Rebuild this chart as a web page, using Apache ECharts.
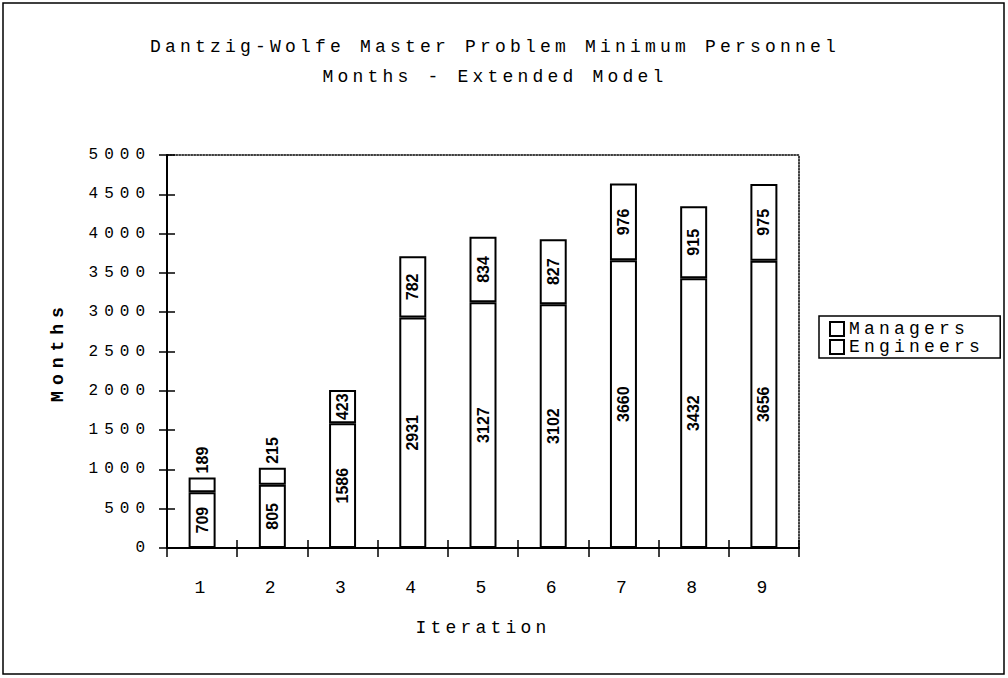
<!DOCTYPE html>
<html>
<head>
<meta charset="utf-8">
<script src="https://cdn.jsdelivr.net/npm/echarts@6/dist/echarts.min.js"></script>
<style>
  html, body { margin: 0; padding: 0; background: #fff; }
  #chart { width: 1008px; height: 678px; }
  #chart text[style*="Mono"] { letter-spacing: 4.2px; }
  #chart text[style*="16px"][style*="Mono"] { letter-spacing: 6px; }
  #chart text[style*="bold"][style*="Mono"] { letter-spacing: 6px; }
</style>
</head>
<body>
<div id="chart"></div>
<script>
const titleLines = ['Dantzig-Wolfe Master Problem Minimum Personnel', 'Months - Extended Model'];
const categories = ['1', '2', '3', '4', '5', '6', '7', '8', '9'];
const engineers = [709, 805, 1586, 2931, 3127, 3102, 3660, 3432, 3656];
const managers = [189, 215, 423, 782, 834, 827, 976, 915, 975];
const yMin = 0, yMax = 5000, yStep = 500;

const mono = "'Courier New', 'Nimbus Mono PS', 'Nimbus Mono L', FreeMono, 'Liberation Mono', monospace";
const sans = 'Liberation Sans';

const chart = echarts.init(document.getElementById('chart'), null, { renderer: 'svg' });

const barLabel = {
  show: true, position: 'inside', rotate: 90, color: '#000',
  fontFamily: sans, fontWeight: 'bold', fontSize: 16
};

const managerData = managers.map(v => v < 300
  ? { value: v, label: { position: 'top', align: 'left', verticalAlign: 'middle', distance: 4 } }
  : v);

const yBase = { type: 'value', min: yMin, max: yMax, interval: yStep, splitLine: { show: false } };
const xBase = { type: 'category', data: categories, splitLine: { show: false } };
const plotRect = { left: 167, right: 209, top: 155, bottom: 130, containLabel: false };
const tickStyle = { color: '#000', width: 1.5 };

chart.setOption({
  backgroundColor: '#fff',
  animation: false,
  title: {
    text: titleLines.join('\n'),
    left: 490, top: 27, textAlign: 'center',
    textStyle: { fontFamily: mono, fontWeight: 'normal', fontSize: 18, lineHeight: 30, color: '#000' }
  },
  legend: {
    orient: 'vertical', left: 819, top: 316,
    data: ['Managers', 'Engineers'],
    icon: 'rect', itemWidth: 14, itemHeight: 14, itemGap: 0,
    padding: [4, 54, 2, 10],
    borderColor: '#000', borderWidth: 1.5,
    itemStyle: { color: '#fff', borderColor: '#000', borderWidth: 2 },
    textStyle: { fontFamily: mono, fontSize: 18, lineHeight: 18, color: '#000' }
  },
  grid: [Object.assign({}, plotRect), Object.assign({}, plotRect)],
  xAxis: [
    Object.assign({}, xBase, {
      gridIndex: 0, position: 'bottom',
      name: 'Iteration', nameLocation: 'middle', nameGap: 71,
      nameTextStyle: { fontFamily: mono, fontSize: 18, color: '#000' },
      axisLine: { onZero: false, lineStyle: { color: '#000', width: 2 } },
      axisTick: { show: true, alignWithLabel: false, length: 9, lineStyle: tickStyle },
      axisLabel: { fontFamily: mono, fontSize: 18, color: '#000', margin: 31 }
    }),
    Object.assign({}, xBase, {
      gridIndex: 1, position: 'bottom',
      axisLine: { show: false, onZero: false },
      axisTick: { show: true, inside: true, alignWithLabel: false, length: 8, lineStyle: tickStyle },
      axisLabel: { show: false }
    }),
    Object.assign({}, xBase, {
      gridIndex: 1, position: 'top',
      axisLine: { show: true, onZero: false, lineStyle: { color: '#000', width: 1.5, type: 'dotted' } },
      axisTick: { show: false },
      axisLabel: { show: false }
    })
  ],
  yAxis: [
    Object.assign({}, yBase, {
      gridIndex: 0, position: 'left',
      name: 'Months', nameLocation: 'middle', nameGap: 100, nameRotate: 90,
      nameTextStyle: { fontFamily: mono, fontWeight: 'bold', fontSize: 18, color: '#000' },
      axisLine: { show: true, onZero: false, lineStyle: { color: '#000', width: 2 } },
      axisTick: { show: true, length: 8, lineStyle: tickStyle },
      axisLabel: { fontFamily: mono, fontSize: 16, color: '#000', margin: 16, formatter: v => String(v) }
    }),
    Object.assign({}, yBase, {
      gridIndex: 1, position: 'left',
      axisLine: { show: false, onZero: false },
      axisTick: { show: true, inside: true, length: 8, lineStyle: tickStyle },
      axisLabel: { show: false }
    }),
    Object.assign({}, yBase, {
      gridIndex: 1, position: 'right',
      axisLine: { show: true, onZero: false, lineStyle: { color: '#000', width: 1.5, type: 'dotted' } },
      axisTick: { show: false },
      axisLabel: { show: false }
    })
  ],
  series: [
    {
      name: 'Engineers', type: 'bar', stack: 'total', barWidth: 27,
      xAxisIndex: 0, yAxisIndex: 0,
      itemStyle: { color: '#fff', borderColor: '#000', borderWidth: 2 },
      label: barLabel,
      data: engineers
    },
    {
      name: 'Managers', type: 'bar', stack: 'total', barWidth: 27,
      xAxisIndex: 0, yAxisIndex: 0,
      itemStyle: { color: '#fff', borderColor: '#000', borderWidth: 2 },
      label: barLabel,
      data: managerData
    }
  ],
  graphic: [
    {
      type: 'rect', silent: true, z: -1,
      shape: { x: 3, y: 3, width: 1001, height: 671 },
      style: { fill: 'none', stroke: '#000', lineWidth: 1.5 }
    }
  ]
});
</script>
</body>
</html>
